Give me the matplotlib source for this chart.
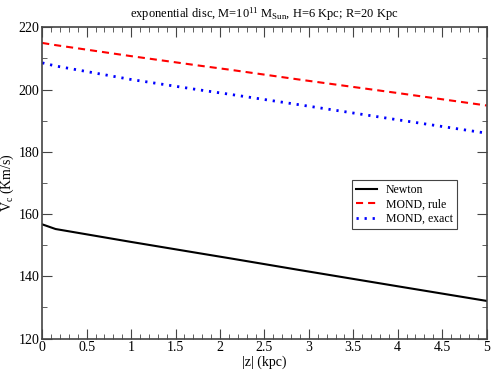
import numpy as np
import matplotlib
matplotlib.use("Agg")
from matplotlib import pyplot as plt
from matplotlib.ticker import MultipleLocator

plt.rcParams['font.family'] = ['Liberation Serif', 'DejaVu Serif']
plt.rcParams['mathtext.fontset'] = 'custom'
plt.rcParams['mathtext.rm'] = 'Liberation Serif'
plt.rcParams['mathtext.it'] = 'Liberation Serif:italic'

# 数据
z = [0.0, 0.15, 0.99, 1.77, 2.11, 2.9, 4.0, 5.0]
v_newton = [156.7, 155.2, 151.1, 147.4, 145.8, 142.0, 136.8, 132.1]
v_mond_rule = [215.0, 214.3, 210.8, 207.7, 206.4, 203.2, 198.9, 194.9]
v_mond_exact = [208.6, 207.6, 203.3, 199.9, 198.5, 195.1, 190.3, 186.0]

fig = plt.figure(figsize=(4.91, 3.70), dpi=100)
ax = fig.add_axes([0.086, 0.085, 0.905, 0.841])

ax.plot(z, v_newton, color='black', lw=1.5, label='Newton')
ax.plot(z, v_mond_rule, color='red', lw=1.5, linestyle=(0, (3.4, 2.4)), label='MOND, rule')
ax.plot(z, v_mond_exact, color='blue', lw=2, linestyle=(0, (0.8, 2.1)), label='MOND, exact')

ax.set_xlim(0, 5)
ax.set_ylim(120, 220)
ax.xaxis.set_major_locator(MultipleLocator(0.5))
ax.xaxis.set_minor_locator(MultipleLocator(0.1))
ax.yaxis.set_major_locator(MultipleLocator(20))
ax.yaxis.set_minor_locator(MultipleLocator(10))
ax.set_xticks(np.arange(0, 5.01, 0.5))
ax.set_xticklabels(['0', '0.5', '1', '1.5', '2', '2.5', '3', '3.5', '4', '4.5', '5'])
ax.tick_params(which='both', direction='in', top=True, right=True, labelsize=10,
               color='#444444', pad=2)
ax.tick_params(which='major', length=7)
ax.tick_params(which='minor', length=3.5)
for s in ax.spines.values():
    s.set_color('#444444')
    s.set_linewidth(1.2)

ax.set_xlabel('|z| (kpc)', fontsize=10, labelpad=1)
ax.set_ylabel(r'V$_{\rm c}$ (Km/s)', fontsize=10, labelpad=2)
ax.set_title(r'exponential disc, M=10$^{11}$ M$_{\rm Sun}$, H=6 Kpc; R=20 Kpc', fontsize=9, pad=7)

leg = ax.legend(loc='upper left', bbox_to_anchor=(0.684, 0.529), fontsize=8.5, fancybox=False,
                framealpha=1, edgecolor='#444444', handlelength=1.8, borderpad=0.35,
                labelspacing=0.2, handletextpad=0.7)
leg.get_frame().set_linewidth(0.8)

fig.savefig('out.png', dpi=100)
